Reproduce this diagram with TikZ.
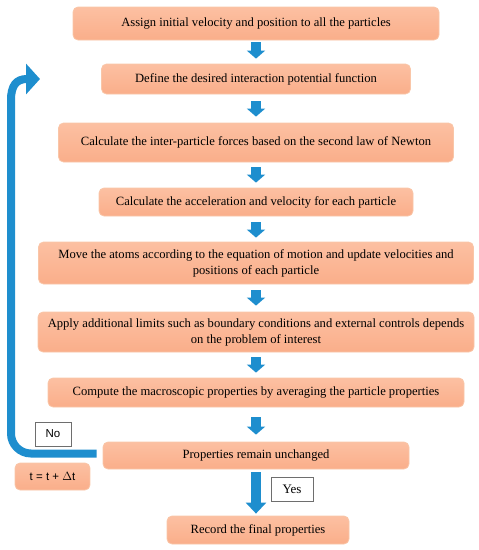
\documentclass[tikz,border=0pt]{standalone}
\usepackage{fontspec}
\setmainfont{Liberation Serif}
\newfontfamily\labelsans{Liberation Sans}
\usepackage{tikz}
\usetikzlibrary{arrows.meta}

\definecolor{boxtop}{RGB}{252,192,162}
\definecolor{boxfill}{RGB}{250,174,138}
\definecolor{boxline}{RGB}{249,198,168}
\definecolor{flowblue}{RGB}{30,142,206}
\definecolor{tagline}{RGB}{110,110,110}

\tikzset{
  stepbox/.style={draw=boxline,top color=boxtop,bottom color=boxfill,line width=0.8pt,
    rounded corners=5pt,inner sep=0pt,align=center,font=\fontsize{12.6}{16}\selectfont},
  tagbox/.style={draw=tagline,fill=white,line width=0.7pt,inner sep=0pt},
  flowarrow/.style={draw=flowblue,line width=10pt,-{Triangle[width=18pt,length=8pt]}},
  bigarrow/.style={draw=flowblue,line width=10pt,-{Triangle[width=20pt,length=11pt]}},
  loopline/.style={draw=flowblue,line width=8pt,-{Triangle[width=30pt,length=14pt]}}
}

\begin{document}
\begin{tikzpicture}[x=1pt,y=1pt]
	\useasboundingbox (0,0) rectangle (479,-550);
	% main steps
	\node[stepbox,minimum width=366,minimum height=33] (b1) at (256,-23.5) {Assign initial velocity and position to all the particles};
	\node[stepbox,minimum width=309,minimum height=30] (b2) at (256,-79) {Define the desired interaction potential function};
	\node[stepbox,minimum width=395,minimum height=39] (b3) at (256,-142.5) {Calculate the inter-particle forces based on the second law of Newton};
	\node[stepbox,minimum width=314,minimum height=28] (b4) at (256,-202) {Calculate the acceleration and velocity for each particle};
	\node[stepbox,minimum width=435,minimum height=42] (b5) at (256,-263) {Move the atoms according to the equation of motion and update velocities and\\positions of each particle};
	\node[stepbox,minimum width=436,minimum height=40] (b6) at (256,-332) {Apply additional limits such as boundary conditions and external controls depends\\on the problem of interest};
	\node[stepbox,minimum width=416,minimum height=29] (b7) at (256,-392.5) {Compute the macroscopic properties by averaging the particle properties};
	\node[stepbox,minimum width=306,minimum height=27] (b8) at (256,-455.5) {Properties remain unchanged};
	\node[stepbox,minimum width=182,minimum height=28] (b9) at (258,-530) {Record the final properties};
	% tags
	\node[tagbox,minimum width=42,minimum height=24,font=\fontsize{13}{16}\selectfont] (yes) at (292,-489) {Yes};
	\node[tagbox,minimum width=36,minimum height=24,font=\labelsans\fontsize{11.5}{14}\selectfont] (no) at (53,-434) {No};
	\node[stepbox,minimum width=75,minimum height=27,font=\labelsans\fontsize{11.5}{14}\selectfont] (tstep) at (52.5,-476.5) {t = t + $\Delta$t};
	% arrows
	\draw[flowarrow,shorten <=2pt,shorten >=5pt] (b1) -- (b2);
	\draw[flowarrow,shorten <=7pt,shorten >=6pt] (b2) -- (b3);
	\draw[flowarrow,shorten <=5pt,shorten >=5pt] (b3) -- (b4);
	\draw[flowarrow,shorten <=6pt,shorten >=4pt] (b4) -- (b5);
	\draw[flowarrow,shorten <=6pt,shorten >=6pt] (b5) -- (b6);
	\draw[flowarrow,shorten <=5pt,shorten >=5pt] (b6) -- (b7);
	\draw[flowarrow,shorten <=10pt,shorten >=7pt] (b7) -- (b8);
	\draw[bigarrow,shorten <=3pt,shorten >=2pt] (b8.south) -- (b8.south |- b9.north);
	% loop back
	\coordinate (loopend) at (40,-79);
	\draw[loopline] ([xshift=-6pt,yshift=2pt]b8.west) [rounded corners=20pt] -- (11,-453.5) [sharp corners] -- (11,-100) .. controls (11,-86) and (16,-79) .. (loopend);
\end{tikzpicture}
\end{document}
